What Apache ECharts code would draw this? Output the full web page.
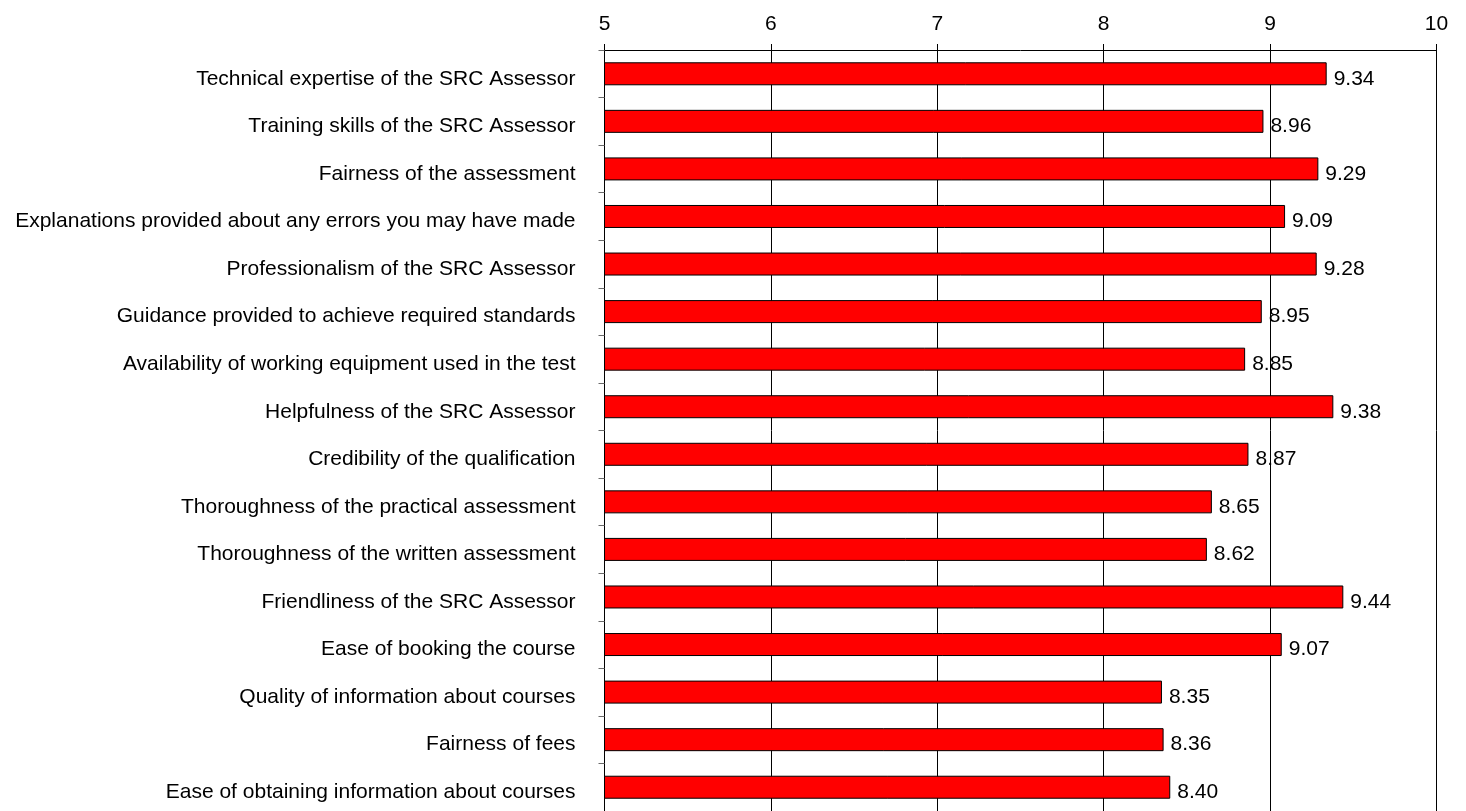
<!DOCTYPE html>
<html>
<head>
<meta charset="utf-8">
<title>SRC Assessment ratings</title>
<script src="https://cdn.jsdelivr.net/npm/echarts@6/dist/echarts.min.js"></script>
<style>
  html, body { margin: 0; padding: 0; background: #ffffff; }
  #chart { width: 1466px; height: 811px; }
</style>
</head>
<body>
<div id="chart"></div>
<script>
// Survey items, top to bottom
const categories = [
  'Technical expertise of the SRC Assessor',
  'Training skills of the SRC Assessor',
  'Fairness of the assessment',
  'Explanations provided about any errors you may have made',
  'Professionalism of the SRC Assessor',
  'Guidance provided to achieve required standards',
  'Availability of working equipment used in the test',
  'Helpfulness of the SRC Assessor',
  'Credibility of the qualification',
  'Thoroughness of the practical assessment',
  'Thoroughness of the written assessment',
  'Friendliness of the SRC Assessor',
  'Ease of booking the course',
  'Quality of information about courses',
  'Fairness of fees',
  'Ease of obtaining information about courses'
];

// Mean score for each item
const scores = [9.34, 8.96, 9.29, 9.09, 9.28, 8.95, 8.85, 9.38, 8.87, 8.65, 8.62, 9.44, 9.07, 8.35, 8.36, 8.40];

// Score axis ticks
const scoreTicks = [5, 6, 7, 8, 9, 10];

const chart = echarts.init(document.getElementById('chart'), null, { renderer: 'canvas' });
const font = 'Arial, "Liberation Sans", sans-serif';

chart.setOption({
  animation: false,
  backgroundColor: '#ffffff',
  grid: { left: 604.5, right: 29.5, top: 50, height: 767, containLabel: false },
  xAxis: {
    type: 'value',
    position: 'top',
    min: scoreTicks[0],
    max: scoreTicks[scoreTicks.length - 1],
    interval: 1,
    axisLine: { show: true, lineStyle: { color: '#000000', width: 1 } },
    axisTick: { show: true, inside: false, length: 6, lineStyle: { color: '#000000' } },
    axisLabel: { color: '#000000', fontSize: 21, fontFamily: font, margin: 15 },
    splitLine: { show: true, lineStyle: { color: '#000000', width: 1 } }
  },
  yAxis: {
    type: 'category',
    data: categories,
    inverse: true,
    axisLine: { show: true, lineStyle: { color: '#000000', width: 1 } },
    axisTick: { show: true, inside: false, length: 6, lineStyle: { color: '#6a6a6a' } },
    axisLabel: {
      color: '#000000',
      fontSize: 21,
      fontFamily: font,
      margin: 29,
      // nudge item names slightly below the bar centre
      formatter: v => '{t|' + v + '}',
      rich: { t: { fontSize: 21, fontFamily: font, color: '#000000', padding: [10, 0, 0, 0] } }
    },
    splitLine: { show: false }
  },
  series: [{
    type: 'bar',
    data: scores,
    barWidth: 23,
    itemStyle: { color: '#ff0000', borderColor: '#000000', borderWidth: 1 },
    label: {
      show: true,
      position: 'right',
      distance: 7,
      offset: [0, 5],
      color: '#000000',
      fontSize: 21,
      fontFamily: font,
      formatter: p => p.value.toFixed(2)
    }
  }]
});
</script>
</body>
</html>
